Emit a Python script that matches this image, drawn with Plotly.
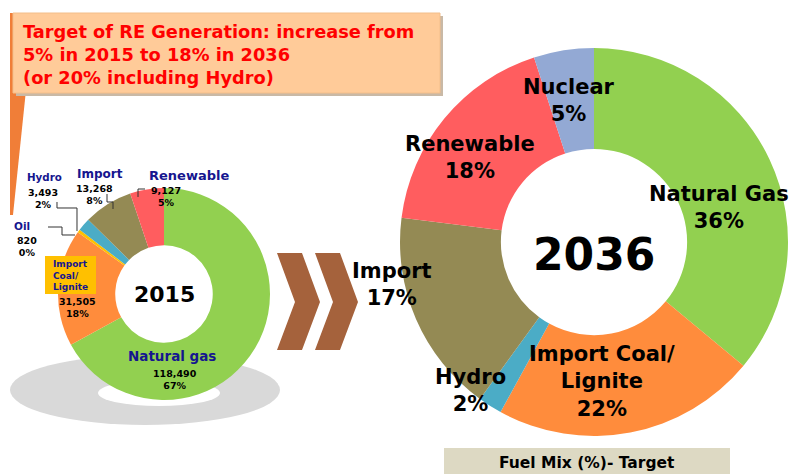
import plotly.graph_objects as go

W, H = 801, 474

# ---------------- data ----------------
labels_2015 = ["Natural gas", "Import Coal/ Lignite", "Oil", "Hydro", "Import", "Renewable"]
values_2015 = [118490, 31505, 820, 3493, 13268, 9127]

labels_2036 = ["Natural Gas", "Import Coal/ Lignite", "Hydro", "Import", "Renewable", "Nuclear"]
values_2036 = [36, 22, 2, 17, 18, 5]

colors_2015 = ["#92D050", "#FF8C3C", "#FFC000", "#4BACC6", "#948A54", "#FF5D5F"]
colors_2036 = ["#92D050", "#FF8C3C", "#4BACC6", "#948A54", "#FF5D5F", "#93A9D4"]

title_lines = ["Target of RE Generation: increase from",
               "5% in 2015 to 18% in 2036",
               "(or 20% including Hydro)"]
footer_text = "Fuel Mix (%)- Target"

FONT = "DejaVu Sans"
NAVY = "#16168F"
OFF = 8  # page body margin offset


def px(x):
    return (x - OFF) / W


def py(y):
    return 1 - (y - OFF) / H


fig = go.Figure()

# left donut: center (164, 294), radius 106
cx1, cy1, r1 = 164, 294, 106
fig.add_trace(go.Pie(
    values=values_2015, labels=labels_2015, sort=False, direction="clockwise",
    rotation=0, hole=0.46,
    domain=dict(x=[px(cx1 - r1), px(cx1 + r1)], y=[py(cy1 + r1), py(cy1 - r1)]),
    marker=dict(colors=colors_2015, line=dict(width=0)),
    textinfo="none", showlegend=False,
))

# right donut: center (594, 242), radius 194
cx2, cy2, r2 = 594, 242, 194
fig.add_trace(go.Pie(
    values=values_2036, labels=labels_2036, sort=False, direction="clockwise",
    rotation=0, hole=0.48,
    domain=dict(x=[px(cx2 - r2), px(cx2 + r2)], y=[py(cy2 + r2), py(cy2 - r2)]),
    marker=dict(colors=colors_2036, line=dict(width=0)),
    textinfo="none", showlegend=False,
))

shapes = []


def rect(x0, y0, x1, y1, fill, line=None, layer="above"):
    shapes.append(dict(type="rect", xref="paper", yref="paper",
                       x0=px(x0), x1=px(x1), y0=py(y1), y1=py(y0),
                       fillcolor=fill, line=dict(width=0 if line is None else 1, color=line or fill),
                       layer=layer))


def poly(points, fill, layer="above", line_w=0, line_c=None):
    d = "M " + " L ".join(f"{px(x):.5f},{py(y):.5f}" for x, y in points) + " Z"
    shapes.append(dict(type="path", xref="paper", yref="paper", path=d,
                       fillcolor=fill, line=dict(width=line_w, color=line_c or fill), layer=layer))


def polyline(points, color="#333333", width=1):
    d = "M " + " L ".join(f"{px(x):.5f},{py(y):.5f}" for x, y in points)
    shapes.append(dict(type="path", xref="paper", yref="paper", path=d,
                       line=dict(width=width, color=color), layer="above"))


def ellipse(cx, cy, rx, ry, fill, layer="below"):
    shapes.append(dict(type="circle", xref="paper", yref="paper",
                       x0=px(cx - rx), x1=px(cx + rx), y0=py(cy + ry), y1=py(cy - ry),
                       fillcolor=fill, line=dict(width=0), layer=layer))


# grey shadow under left donut
ellipse(145, 390, 135, 35, "#D9D9D9")
ellipse(159, 393, 61, 13, "#FFFFFF")
rect(OFF, 340, 10, 440, "#FFFFFF", layer="below")

# orange tapered bar at left
poly([(10, 13), (34, 13), (13, 215), (10, 215)], "#F07E38")

# title box with shadow
rect(16, 16, 443, 96, "#C9B9A6")
rect(13, 13, 440, 93, "#FFCB99", line="#F3BE8A")

# chevrons
chev = "#A5623C"
for dx in (0, 38):
    poly([(277 + dx, 253), (302 + dx, 253), (320 + dx, 302), (302 + dx, 350),
          (277 + dx, 350), (295 + dx, 302)], chev)

# footer box
rect(444, 448, 730, 474, "#DDD9C3")

# leader lines (left donut)
polyline([(57, 202), (57, 208), (77, 208), (77, 231)])
polyline([(48, 227), (62, 227), (62, 235), (75, 235)])
polyline([(107, 194), (107, 202), (113, 202), (113, 209)])
polyline([(138, 197), (138, 189), (145, 189)])

# Import Coal/Lignite label box
rect(45, 256, 96, 294, "#FFC000")

fig.update_layout(shapes=shapes)

ann = []


def text(x, y, s, size, color="#000000", xanchor="center", align="center", yanchor="middle"):
    ann.append(dict(x=px(x), y=py(y), xref="paper", yref="paper", text=s,
                    showarrow=False, xanchor=xanchor, yanchor=yanchor, align=align,
                    font=dict(family=FONT, size=size, color=color)))


# title text
text(21, 54, "<b>" + "<br>".join(title_lines) + "</b>", 17.8, "#FF0000", xanchor="left", align="left")

# left donut labels
total_2015 = sum(values_2015)
pct_2015 = [round(v / total_2015 * 100) for v in values_2015]
num = [f"{v:,}" for v in values_2015]

text(164, 294, "<b>2015</b>", 22)
# Natural gas
text(172, 356, f"<b>{labels_2015[0]}</b>", 13.5, NAVY)
text(175, 379, f"<b>{num[0]}<br>{pct_2015[0]}%</b>", 9.5)
# Import coal / lignite
text(51, 275, "<b>Import<br>Coal/<br>Lignite</b>", 9, NAVY, xanchor="left", align="left")
text(77, 307, f"<b>{num[1]}<br>{pct_2015[1]}%</b>", 9.5)
# Oil
text(22, 226, f"<b>{labels_2015[2]}</b>", 10.5, NAVY)
text(27, 246, f"<b>{num[2]}<br>{pct_2015[2]}%</b>", 9.5)
# Hydro
text(44, 177, f"<b>{labels_2015[3]}</b>", 10.3, NAVY)
text(43, 198, f"<b>{num[3]}<br>{pct_2015[3]}%</b>", 9.5)
# Import
text(100, 174, f"<b>{labels_2015[4]}</b>", 12, NAVY)
text(94, 195, f"<b>{num[4]}<br>{pct_2015[4]}%</b>", 9.5)
# Renewable
text(189, 175, f"<b>{labels_2015[5]}</b>", 13, NAVY)
text(166, 196, f"<b>{num[5]}<br>{pct_2015[5]}%</b>", 9.5)

# right donut labels
text(594, 254, "<b>2036</b>", 44)
pos_2036 = {
    "Natural Gas": (719, 208),
    "Import Coal/ Lignite": (602, 381),
    "Hydro": (470, 390),
    "Import": (392, 284),
    "Renewable": (470, 157),
    "Nuclear": (569, 101),
}
for lab, v in zip(labels_2036, values_2036):
    x, y = pos_2036[lab]
    name = lab.replace("/ ", "/<br>")
    text(x, y, f"<b>{name}<br>{v}%</b>", 21)

# footer
text(587, 463, f"<b>{footer_text}</b>", 15.5)

fig.update_layout(
    annotations=ann,
    width=W, height=H, autosize=False,
    margin=dict(l=0, r=0, t=0, b=0),
    paper_bgcolor="#FFFFFF", plot_bgcolor="#FFFFFF",
    xaxis=dict(visible=False), yaxis=dict(visible=False),
)

fig.write_html("out.html")
